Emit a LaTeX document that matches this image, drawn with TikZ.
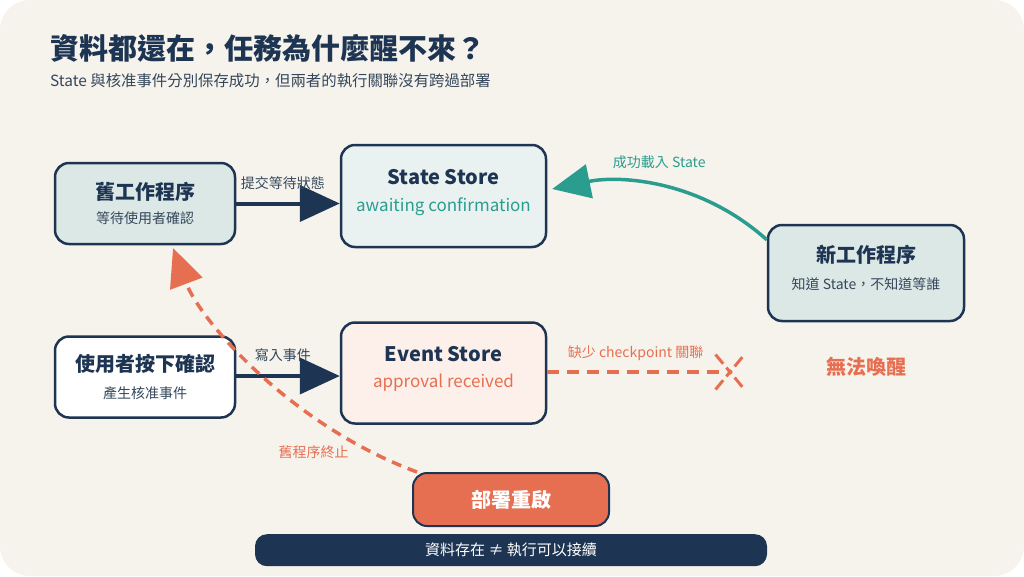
\documentclass[tikz,border=0pt]{standalone}
\usepackage{fontspec}
\setmainfont{Noto Sans CJK TC}
\usetikzlibrary{positioning,shapes,shapes.misc,arrows.meta}
\definecolor{navy}{HTML}{1D3552}
\definecolor{slate}{HTML}{34475B}
\definecolor{teal}{HTML}{2A9D8F}
\definecolor{coral}{HTML}{E76F51}
\definecolor{paper}{HTML}{F6F3EC}
\definecolor{mist}{HTML}{DCE8E6}
\definecolor{ice}{HTML}{E9F2F1}
\definecolor{blush}{HTML}{FDEFEA}
\newcommand{\headfont}{\fontsize{20}{24}\selectfont\bfseries}
\newcommand{\subfont}{\fontsize{14}{18}\selectfont}
\newcommand{\lowstrut}{\rule[-12pt]{0pt}{12pt}}
\tikzstyle{object}=[rectangle, draw=navy, line width=2.5pt, rounded corners=14pt,
        text centered, align=center, inner sep=0pt, text=navy]
\tikzstyle{flow}=[draw=navy, line width=4pt, -{Triangle[length=40pt,width=36pt]}]
\tikzstyle{tag}=[font=\subfont, inner sep=0pt]
\begin{document}
\begin{tikzpicture}[x=1pt, y=-1pt]
        \useasboundingbox (0,0) rectangle (1024,576);
        \fill [paper, rounded corners=30pt] (0,0) rectangle (1024,576);
        % heading
        \node (Title) [anchor=west, inner sep=0pt, text=navy, font=\fontsize{29}{34}\selectfont\bfseries] at (50,48)
        {資料都還在，任務為什麼醒不來？};
        \node (Subtitle) [anchor=west, inner sep=0pt, text=slate, font=\fontsize{15.4}{18}\selectfont] at (50,81)
        {State 與核准事件分別保存成功，但兩者的執行關聯沒有跨過部署};
        % boxes
        \node (OldWorker) [object, fill=mist, minimum width=180pt, minimum height=81pt] at (145,203.5)
        {\headfont 舊工作程序\\[10pt]\subfont\color{slate}等待使用者確認};
        \node (StateStore) [object, fill=ice, minimum width=205pt, minimum height=102pt] at (443.5,196)
        {\headfont State Store\\[12pt]\fontsize{17}{21}\selectfont\color{teal}awaiting confirmation\lowstrut};
        \node (NewWorker) [object, fill=mist, minimum width=196pt, minimum height=96pt] at (866,273)
        {\headfont 新工作程序\\[12pt]\subfont\color{slate}知道 State，不知道等誰\lowstrut};
        \node (UserClick) [object, fill=white, minimum width=180pt, minimum height=81pt, below=90pt of OldWorker]
        {\headfont 使用者按下確認\\[12pt]\subfont\color{slate}產生核准事件};
        \node (EventStore) [object, fill=blush, minimum width=205pt, minimum height=101pt, below=73pt of StateStore]
        {\headfont Event Store\\[12pt]\fontsize{17}{21}\selectfont\color{coral}approval received\lowstrut};
        \node (Deploy) [object, fill=coral, line width=2pt, minimum width=196pt, minimum height=53pt, text=white] at (511,499.5)
        {\headfont 部署重啟};
        \node (Motto) [fill=navy, rounded corners=12pt, minimum width=512pt, minimum height=32pt, inner sep=0pt,
          text=white, font=\fontsize{15}{18}\selectfont, below=7pt of Deploy]
        {資料存在 ≠ 執行可以接續};
        \node (Break) [cross out, draw=coral, line width=3pt, dash pattern=on 12pt off 5pt on 8pt off 5pt on 12pt off 20pt,
          minimum width=26pt, minimum height=32pt] at (730,372) {};
        \node (NoWake) [text=coral, font=\headfont] at (866,367) {無法喚醒};
        % connectors
        \draw [flow] (OldWorker.east) -- node[tag, pos=0.45, above=12pt, text=slate] {提交等待狀態} (OldWorker.east -| StateStore.west);
        \draw [flow] (UserClick.east |- 0,376) -- node[tag, pos=0.45, above=12pt, text=slate] {寫入事件} (EventStore.west |- 0,376);
        \draw [teal, line width=3.5pt, -{Triangle[length=38pt,width=34pt]}, shorten >=5pt]
          ([yshift=-16pt]NewWorker.north west) .. controls (700,180) and (620,175) .. ([yshift=6pt]StateStore.east)
          node[tag, pos=0.5, above=16pt, text=teal] {成功載入 State};
        \draw [coral, line width=3.5pt, dash pattern=on 12pt off 8pt] (EventStore.east |- Break) -- ([xshift=-6pt]Break.center)
          node[tag, midway, above=10pt, text=coral] {缺少 checkpoint 關聯};
        \draw [coral, line width=3.5pt, dash pattern=on 10pt off 7pt, -{Triangle[length=38pt,width=34pt]}, shorten >=3pt]
          ([xshift=5pt]Deploy.north west) .. controls (290,425) and (200,320) .. ([xshift=27pt]OldWorker.south)
          node[tag, pos=0.15, left=12pt, yshift=-5pt, text=coral] {舊程序終止};
\end{tikzpicture}
\end{document}
